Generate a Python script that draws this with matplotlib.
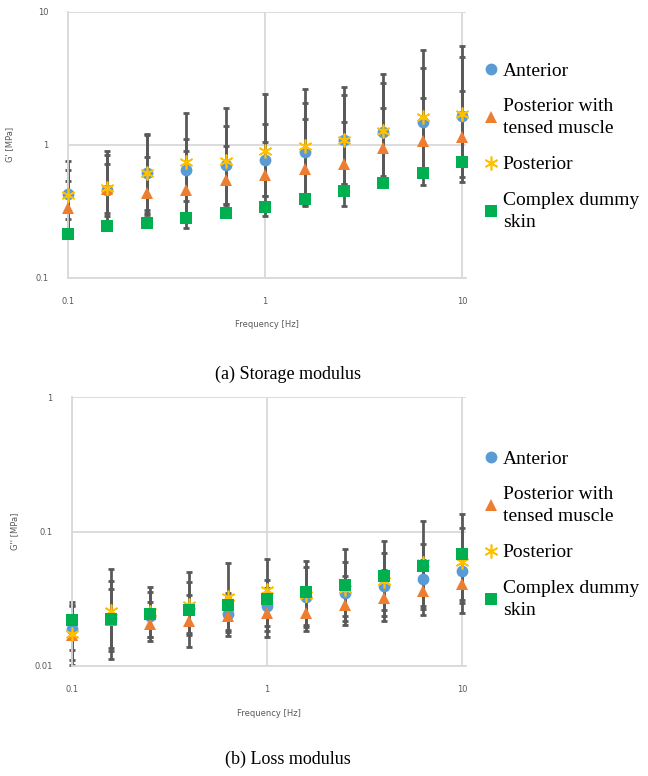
import numpy as np
import matplotlib
matplotlib.use("Agg")
import matplotlib.pyplot as plt

# frequency steps (0.2 decade)
freq = [0.1, 0.158, 0.251, 0.398, 0.631, 1.0, 1.585, 2.512, 3.981, 6.31, 10.0]

labels = ["Anterior", "Posterior with\ntensed muscle", "Posterior", "Complex dummy\nskin"]

# storage modulus G'
st_ant = [0.426, 0.459, 0.616, 0.649, 0.707, 0.767, 0.881, 1.09, 1.25, 1.47, 1.63]
st_ant_lo = [0.276, 0.289, 0.306, 0.306, 0.360, 0.414, 0.350, 0.509, 0.546, 0.612, 0.571]
st_ant_hi = [0.649, 0.841, 1.19, 1.10, 1.39, 1.44, 2.05, 2.35, 2.91, 3.77, 4.56]
st_mus = [0.334, 0.465, 0.433, 0.453, 0.546, 0.588, 0.656, 0.716, 0.938, 1.06, 1.15]
st_mus_lo = [0.217, 0.306, 0.321, 0.379, 0.360, 0.414, 0.386, 0.509, 0.578, 0.649, 0.687]
st_mus_hi = [0.530, 0.716, 0.803, 0.891, 0.983, 1.04, 1.57, 1.48, 1.88, 2.24, 2.52]
st_post = [0.421, 0.472, 0.616, 0.736, 0.749, 0.891, 0.971, 1.09, 1.27, 1.62, 1.70]
st_post_lo = [0.230, 0.265, 0.298, 0.236, 0.340, 0.289, 0.344, 0.346, 0.515, 0.500, 0.521]
st_post_hi = [0.758, 0.902, 1.20, 1.73, 1.89, 2.40, 2.62, 2.70, 3.40, 5.18, 5.49]
st_dummy = [0.213, 0.245, 0.258, 0.281, 0.306, 0.340, 0.391, 0.449, 0.515, 0.612, 0.741]

# loss modulus G''
ls_ant = [0.0187, 0.0229, 0.0233, 0.0266, 0.0244, 0.0280, 0.0323, 0.0348, 0.0396, 0.0445, 0.0510]
ls_ant_lo = [0.0111, 0.0128, 0.0163, 0.0170, 0.0178, 0.0182, 0.0194, 0.0216, 0.0233, 0.0266, 0.0293]
ls_ant_hi = [0.0285, 0.0429, 0.0353, 0.0420, 0.0348, 0.0437, 0.0540, 0.0598, 0.0690, 0.0805, 0.106]
ls_mus = [0.0170, 0.0220, 0.0204, 0.0214, 0.0236, 0.0247, 0.0247, 0.0285, 0.0319, 0.0362, 0.0406]
ls_mus_lo = [0.0132, 0.0135, 0.0165, 0.0175, 0.0185, 0.0199, 0.0202, 0.0233, 0.0261, 0.0277, 0.0310]
ls_mus_hi = [0.0277, 0.0374, 0.0298, 0.0338, 0.0328, 0.0379, 0.0368, 0.0463, 0.0519, 0.0615, 0.0615]
ls_post = [0.0172, 0.0254, 0.0251, 0.0285, 0.0328, 0.0368, 0.0334, 0.0372, 0.0425, 0.0581, 0.0598]
ls_post_lo = [0.0102, 0.0112, 0.0154, 0.0139, 0.0168, 0.0165, 0.0183, 0.0202, 0.0214, 0.0240, 0.0249]
ls_post_hi = [0.0298, 0.0527, 0.0385, 0.0504, 0.0581, 0.0622, 0.0608, 0.0743, 0.0857, 0.119, 0.135]
ls_dummy = [0.0220, 0.0224, 0.0243, 0.0261, 0.0285, 0.0314, 0.0353, 0.0398, 0.0463, 0.0555, 0.0678]

colors = ["#5B9BD5", "#ED7D31", "#FFC000", "#00B050"]
markers = ["o", "^", (6, 2, 0), "s"]
sizes = [8.5, 8.5, 10, 8]
errc = "#595959"
grid_c = "#D9D9D9"


def yerr(v, lo, hi):
    v = np.array(v)
    return [v - np.array(lo), np.array(hi) - v]


def panel(ax, series, bands, ylim, ylab, leg_y):
    # error bars first, markers on top
    for (v, lo, hi) in bands:
        eb = ax.errorbar(freq, v, yerr=yerr(v, lo, hi), fmt="none", ecolor=errc,
                         elinewidth=2, capsize=2.5, capthick=2, zorder=2)
        for a in eb.get_children():
            a.set_clip_on(False)
    hs = []
    for i, v in enumerate(series):
        h, = ax.plot(freq, v, linestyle="none", marker=markers[i], color=colors[i],
                     markersize=sizes[i], markeredgewidth=1.2 if i == 2 else 0,
                     zorder=3 + i, clip_on=False)
        hs.append(h)
    ax.set_xscale("log")
    ax.set_yscale("log")
    ax.set_xlim(0.1, 10.45)
    ax.set_ylim(*ylim)
    ax.grid(True, which="major", color=grid_c, linewidth=1.3)
    ax.minorticks_off()
    for s in ["top", "right"]:
        ax.spines[s].set_visible(False)
    for s in ["left", "bottom"]:
        ax.spines[s].set_color(grid_c)
        ax.spines[s].set_linewidth(1.3)
    ax.tick_params(length=0, labelsize=6, labelcolor="#595959", pad=14)
    ax.set_xticks([0.1, 1, 10])
    ax.set_xticklabels(["0.1", "1", "10"])
    ax.set_xlabel("Frequency [Hz]", fontsize=6, color="#595959")
    ax.xaxis.set_label_coords(0.5, -0.16)
    ax.set_ylabel(ylab, fontsize=6, color="#595959")
    ax.yaxis.set_label_coords(-0.135, 0.5)
    leg = fig.legend(hs, labels, loc="upper left", bbox_to_anchor=(0.737, leg_y),
                     frameon=False, prop={"family": "Liberation Serif", "size": 14},
                     handlelength=0.6, handletextpad=0.3, labelspacing=0.95,
                     borderaxespad=0)
    for t in leg.get_texts():
        t.set_linespacing(1.4)


fig = plt.figure(figsize=(6.48, 7.76), dpi=100)
ax1 = fig.add_axes([0.105, 0.642, 0.614, 0.343])
ax2 = fig.add_axes([0.111, 0.142, 0.608, 0.346])

panel(ax1, [st_ant, st_mus, st_post, st_dummy],
      [(st_ant, st_ant_lo, st_ant_hi), (st_mus, st_mus_lo, st_mus_hi),
       (st_post, st_post_lo, st_post_hi)],
      (0.1, 10), "G' [MPa]", 0.93)
ax1.set_yticks([0.1, 1, 10])
ax1.set_yticklabels(["0.1", "1", "10"])

panel(ax2, [ls_ant, ls_mus, ls_post, ls_dummy],
      [(ls_ant, ls_ant_lo, ls_ant_hi), (ls_mus, ls_mus_lo, ls_mus_hi),
       (ls_post, ls_post_lo, ls_post_hi)],
      (0.01, 1), "G'' [MPa]", 0.43)
ax2.set_yticks([0.01, 0.1, 1])
ax2.set_yticklabels(["0.01", "0.1", "1"])

fig.text(0.444, 0.517, "(a) Storage modulus", ha="center", va="center",
         family="Liberation Serif", fontsize=13)
fig.text(0.444, 0.021, "(b) Loss modulus", ha="center", va="center",
         family="Liberation Serif", fontsize=13)

fig.savefig("out.png", dpi=100)
